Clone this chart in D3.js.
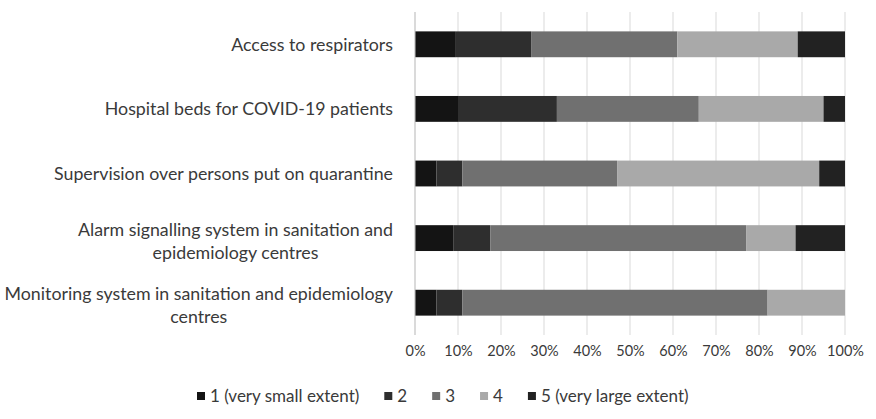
<!DOCTYPE html>
<html>
<head>
<meta charset="utf-8">
<script src="https://cdn.jsdelivr.net/npm/d3@7/dist/d3.min.js"></script>
<style>
  html, body { margin: 0; padding: 0; background: #fff; }
  svg text { font-family: Lato, "Open Sans", sans-serif; fill: #3a3a3a; }
</style>
</head>
<body>
<svg id="chart" width="876" height="419"></svg>
<script>
// ---- data ----
const categories = [
  ["Access to respirators"],
  ["Hospital beds for COVID-19 patients"],
  ["Supervision over persons put on quarantine"],
  ["Alarm signalling system in sanitation and", "epidemiology centres"],
  ["Monitoring system in sanitation and epidemiology", "centres"]
];
const seriesNames = ["1 (very small extent)", "2", "3", "4", "5 (very large extent)"];
const s1 = [9.5, 10, 5, 9, 5];
const s2 = [17.5, 23, 6, 8.5, 6];
const s3 = [34, 33, 36, 59.5, 71];
const s4 = [28, 29, 47, 11.5, 18];
const s5 = [11, 5, 6, 11.5, 0];
const tickValues = [0, 0.1, 0.2, 0.3, 0.4, 0.5, 0.6, 0.7, 0.8, 0.9, 1.0];
const colors = ["#141414", "#2e2e2e", "#707070", "#a9a9a9", "#222222"];

// ---- build ----
const series = [s1, s2, s3, s4, s5];
const rows = categories.map((c, i) => {
  const o = { key: i };
  const total = series.reduce((a, s) => a + s[i], 0);
  series.forEach((s, k) => o["s" + k] = s[i] / total);
  return o;
});
const keys = series.map((_, k) => "s" + k);
const stacked = d3.stack().keys(keys)(rows);

const svg = d3.select("#chart");
const margin = { left: 415, right: 31, top: 12, bottom: 84 };
const W = 876, H = 419;

const x = d3.scaleLinear().domain([0, 1]).range([margin.left, W - margin.right]);
const y = d3.scaleBand().domain(categories.map((_, i) => i))
  .range([margin.top, H - margin.bottom]).paddingInner(0.6).paddingOuter(0.3);

// gridlines
svg.append("g")
  .selectAll("line").data(tickValues).join("line")
  .attr("x1", d => x(d)).attr("x2", d => x(d))
  .attr("y1", margin.top).attr("y2", H - margin.bottom)
  .attr("stroke", "#d9d9d9").attr("stroke-width", 1);

// bars
svg.append("g").selectAll("g").data(stacked).join("g")
  .attr("fill", (d, k) => colors[k])
  .selectAll("rect").data(d => d).join("rect")
  .attr("x", d => x(d[0]))
  .attr("width", d => Math.max(0, x(d[1]) - x(d[0])))
  .attr("y", (d, i) => y(i))
  .attr("height", y.bandwidth());

// category axis line
svg.append("line")
  .attr("x1", x(0)).attr("x2", x(0))
  .attr("y1", margin.top).attr("y2", H - margin.bottom)
  .attr("stroke", "#c8c8c8");

// x axis tick labels
const xAxis = d3.axisBottom(x).tickValues(tickValues).tickFormat(d3.format(".0%")).tickSize(0).tickPadding(0);
const gx = svg.append("g").attr("transform", `translate(0,${H - margin.bottom + 11})`).call(xAxis);
gx.select(".domain").remove();
gx.selectAll("text").attr("font-size", "14.5px").attr("font-family", "Lato").attr("fill", "#3a3a3a");

// category labels
const labelFont = 17.8;
const lineH = 23;
const lab = svg.append("g");
categories.forEach((lines, i) => {
  const cy = y(i) + y.bandwidth() / 2 + (lines.length > 1 ? 3 : 0);
  const g = lab.append("g");
  const texts = lines.map((t, j) => g.append("text")
    .attr("font-size", labelFont + "px")
    .attr("y", cy + (j - (lines.length - 1) / 2) * lineH)
    .attr("dy", "0.35em")
    .attr("text-anchor", "middle")
    .text(t));
  const widths = texts.map(t => t.node().getComputedTextLength());
  const maxW = d3.max(widths);
  const rightEdge = 393;
  texts.forEach(t => t.attr("x", rightEdge - maxW / 2));
});

// legend
const legend = svg.append("g").attr("transform", `translate(0, 396)`);
let lx = 197;
seriesNames.forEach((n, k) => {
  legend.append("rect").attr("x", lx).attr("y", -4).attr("width", 8).attr("height", 8).attr("fill", colors[k]);
  const t = legend.append("text").attr("x", lx + 13).attr("y", 0).attr("dy", "0.35em")
    .attr("font-size", "17px").text(n);
  lx += 13 + t.node().getComputedTextLength() + 25;
});
</script>
</body>
</html>
